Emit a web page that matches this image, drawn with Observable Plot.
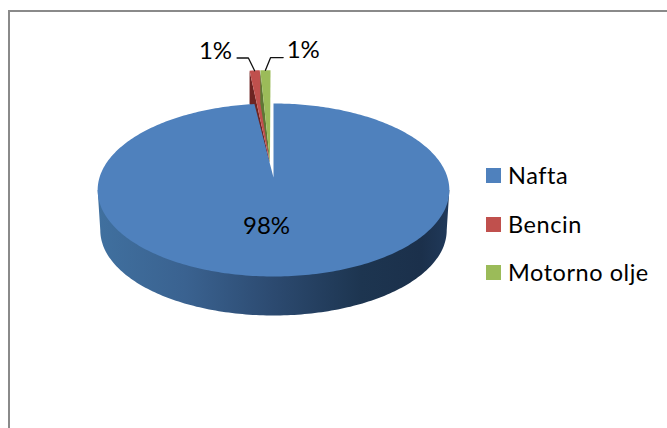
<!DOCTYPE html>
<html>
<head>
<meta charset="utf-8">
<script src="https://cdn.jsdelivr.net/npm/d3@7"></script>
<script src="https://cdn.jsdelivr.net/npm/@observablehq/plot@0.6"></script>
<style>
  html, body { margin: 0; padding: 0; background: #fff; }
  #chart { position: relative; width: 667px; height: 428px; overflow: hidden; font-family: Lato, sans-serif; }
  #chart svg { position: absolute; left: 0; top: 0; }
  .border { position: absolute; left: 8px; top: 10px; width: 700px; height: 500px;
            border-left: 2px solid #8a8a8a; border-top: 2px solid #8a8a8a; }
  .legend { position: absolute; left: 486px; top: 161px; }
  .legend div { position: absolute; left: 0; white-space: nowrap; font-size: 23.5px; letter-spacing: 0.55px; line-height: 30px; color: #000; height: 30px; }
  .legend i { position: absolute; left: 0; top: 7px; width: 15px; height: 15px; }
  .legend span { position: absolute; left: 22px; top: -1px; }
</style>
</head>
<body>
<div id="chart"><div class="border"></div></div>
<script>
// Fuel shares, clockwise from twelve o'clock
const categories = ["Nafta", "Bencin", "Motorno olje"];
const shares = [98, 1, 1];
const shareLabels = ["98%", "1%", "1%"];
const topColors = ["#4f81bd", "#c0504d", "#9bbb59"];
const cutColors = ["#385d8a", "#6e2422", "#5f7735"];

// Tilted disc: k is the perspective strength, v grows towards the viewer
const k = 0.1445;
const project = (u, v) => ({x: u / (1 - k * v), y: v / (1 - k * v)});
const rim = (a, r = 1, ou = 0, ov = 0, taper = 1) => project(ou + taper * r * Math.sin(a), ov - r * Math.cos(a));
const deg = Math.PI / 180;

const arcs = d3.pie().sort(null).value(d => d)(shares);
const sweep = (a0, a1) => {
  const n = Math.max(2, Math.ceil(Math.abs(a1 - a0) / deg));
  return d3.range(n + 1).map(i => a0 + (a1 - a0) * i / n);
};

// Thickness of the disc in the units of the y scale
const lift = 0.478, shrink = 0.985;
const lower = p => ({x: p.x * shrink, y: p.y * shrink + lift});

const silhouette = Math.asin(k); // the rim is widest slightly in front of the disc's centre line
const sideAngles = sweep(90 * deg + silhouette, 270 * deg - silhouette);
const side = [rim(sideAngles[0]), ...sideAngles.map(a => lower(rim(a))), rim(sideAngles[sideAngles.length - 1])];

const main = [{x: 0, y: 0}, ...sweep(arcs[0].startAngle, arcs[0].endAngle).map(a => rim(a))];

// The two small slices are pulled out of the disc towards the back
const reach = 1.345, apexV = -0.207, apexU = -0.021, cutDepth = 0.39, taper = 0.85;
const pulled = arcs.slice(1).map((arc, i) => {
  const ou = apexU - 0.004 * (1 - i);
  const apex = project(ou, apexV);
  const outer = sweep(arc.startAngle, arc.endAngle).map(a => rim(a, reach, ou, apexV, taper));
  const first = outer[0];
  const cut = [apex, first, {x: first.x, y: first.y + cutDepth}, {x: apex.x, y: apex.y + cutDepth * 0.06}];
  return {face: [apex, ...outer], cut, first, last: outer[outer.length - 1]};
});

const area = (pts, fill) => Plot.line(pts, {x: "x", y: "y", fill, stroke: "none", curve: "linear-closed"});

// Leader lines run from the outer edge of each small slice to its label
const leader = (s, elbowDx, endDx) => {
  const mid = {x: (s.first.x + s.last.x) / 2, y: s.first.y};
  const e = {x: mid.x + elbowDx, y: s.first.y - 0.15};
  return [mid, e, {x: e.x + endDx, y: e.y}];
};
const leaders = [leader(pulled[0], -0.036, -0.065), leader(pulled[1], 0.03, 0.072)];

const gradient = () => {
  const svg = d3.create("svg:defs");
  const g = svg.append("linearGradient").attr("id", "rimShade");
  [[0, "#40709f"], [0.25, "#3a6290"], [0.5, "#2c4a70"], [0.75, "#1d3550"], [0.92, "#1b304b"], [1, "#20395a"]]
    .forEach(([o, c]) => g.append("stop").attr("offset", o).attr("stop-color", c));
  return svg.node();
};

const labelStyle = {text: d => d, fontSize: 24, fill: "#000", fontFamily: "Lato, sans-serif"};

const plot = Plot.plot({
  width: 667,
  height: 428,
  margin: 0,
  x: {domain: [-1, 1], range: [99, 447], axis: null},
  y: {domain: [0, 1], range: [177, 261.7], axis: null},
  style: {background: "transparent"},
  marks: [
    gradient,
    area(pulled[0].cut, cutColors[1]),
    area(pulled[0].face, topColors[1]),
    area(side, "url(#rimShade)"),
    area(main, topColors[0]),
    area(pulled[1].cut, cutColors[2]),
    area(pulled[1].face, topColors[2]),
    ...leaders.map(l => Plot.line(l, {x: "x", y: "y", stroke: "#111", strokeWidth: 1.3})),
    Plot.text([shareLabels[0]], {x: () => -0.04, y: () => 0.58, ...labelStyle}),
    Plot.text([shareLabels[1]], {x: () => leaders[0][2].x, y: () => leaders[0][2].y, dx: -5, dy: -7, textAnchor: "end", ...labelStyle}),
    Plot.text([shareLabels[2]], {x: () => leaders[1][2].x, y: () => leaders[1][2].y, dx: 3.5, dy: -7, textAnchor: "start", ...labelStyle})
  ]
});
document.getElementById("chart").appendChild(plot);

// Legend to the right of the pie
const legend = d3.select("#chart").append("div").attr("class", "legend");
categories.forEach((name, i) => {
  const row = legend.append("div").style("top", `${Math.ceil(i * 48.5)}px`);
  row.append("i").style("background", topColors[i]);
  row.append("span").text(name);
});
</script>
</body>
</html>
